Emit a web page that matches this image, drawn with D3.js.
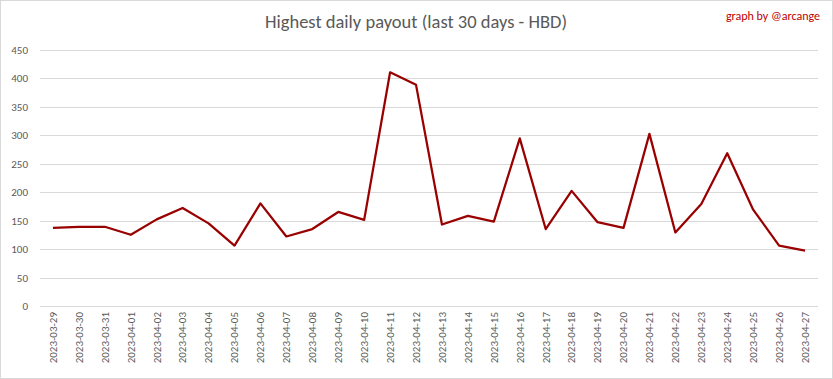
<!DOCTYPE html>
<html><head><meta charset="utf-8">
<script src="https://cdn.jsdelivr.net/npm/d3@7"></script>
<style>body{margin:0;background:#fff}svg{display:block}</style>
</head><body><svg id="c" width="833" height="379"></svg>
<script>
const dates = ["2023-03-29","2023-03-30","2023-03-31","2023-04-01","2023-04-02","2023-04-03","2023-04-04","2023-04-05","2023-04-06","2023-04-07","2023-04-08","2023-04-09","2023-04-10","2023-04-11","2023-04-12","2023-04-13","2023-04-14","2023-04-15","2023-04-16","2023-04-17","2023-04-18","2023-04-19","2023-04-20","2023-04-21","2023-04-22","2023-04-23","2023-04-24","2023-04-25","2023-04-26","2023-04-27"];
const payouts = [137,139,139,125,152,172,145,106,180,122,135,165,151,410,388,143,158,148,294,135,202,147,137,302,129,179,268,169,106,97];
const yTicks = [0,50,100,150,200,250,300,350,400,450];
const title = "Highest daily payout (last 30 days - HBD)";
const credit = "graph by @arcange";

const svg = d3.select("#c");
const font = "Carlito, 'Open Sans', 'Liberation Sans', sans-serif";
svg.append("rect").attr("x",0.5).attr("y",0.5).attr("width",832).attr("height",378)
  .attr("fill","#fff").attr("stroke","#d9d9d9");

const x = d3.scaleBand().domain(dates).range([40,818]);
const y = d3.scaleLinear().domain([0,450]).range([306,49.5]);

// grid
svg.append("g").selectAll("line").data(yTicks).join("line")
  .attr("x1",40).attr("x2",818).attr("y1",d=>Math.round(y(d))+0.5).attr("y2",d=>Math.round(y(d))+0.5)
  .attr("stroke","#d9d9d9").attr("stroke-width",1);

// y axis
const ya = svg.append("g").attr("transform","translate(40,0)")
  .call(d3.axisLeft(y).tickValues(yTicks).tickSize(0).tickPadding(12));
ya.select(".domain").remove();
ya.selectAll("text").attr("fill","#595959").style("font-family",font).style("font-size","11px");

// x axis
const xa = svg.append("g").attr("transform","translate(0,306)")
  .call(d3.axisBottom(x).tickSize(0));
xa.select(".domain").remove();
xa.selectAll("text").attr("fill","#595959").style("font-family",font).style("font-size","11px")
  .attr("transform","rotate(-90)").attr("text-anchor","end").attr("dx","-6").attr("dy","0.35em").attr("y",0).attr("x",0);

// line
const line = d3.line().x((d,i)=>x(dates[i])+x.bandwidth()/2).y(d=>y(d));
svg.append("path").datum(payouts).attr("d",line).attr("fill","none")
  .attr("stroke","#990000").attr("stroke-width",2.25).attr("stroke-linejoin","round");

svg.append("text").attr("x",416).attr("y",28).attr("text-anchor","middle")
  .attr("fill","#595959").style("font-family",font).style("font-size","18.5px").text(title);
svg.append("text").attr("x",820).attr("y",20).attr("text-anchor","end")
  .attr("fill","#c00000").style("font-family",font).style("font-size","12px").text(credit);
</script></body></html>
